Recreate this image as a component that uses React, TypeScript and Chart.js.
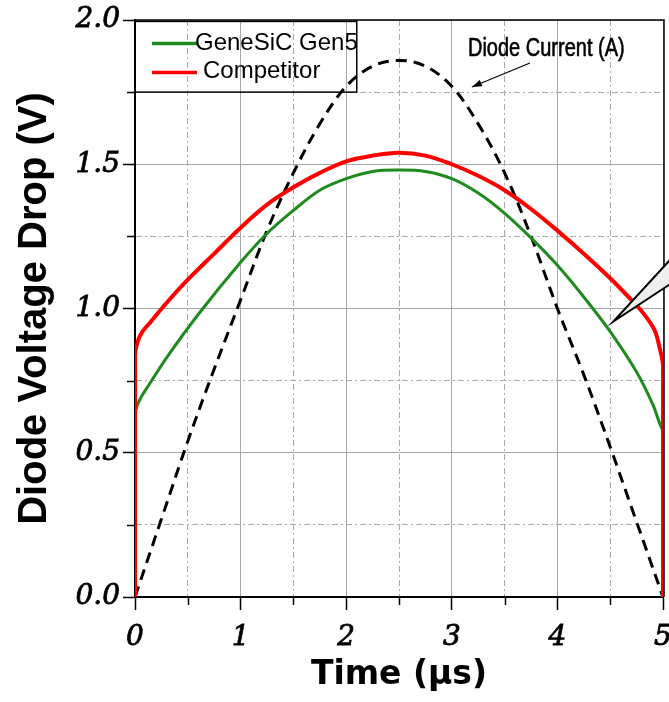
import React, { useEffect, useRef } from 'react';
import { Chart, registerables } from 'chart.js';

Chart.register(...registerables);

// ---- data ----
const currentTime = [0, 0.25, 0.5, 0.75, 1, 1.25, 1.5, 1.75, 2, 2.25, 2.5, 2.75, 3, 3.25, 3.5, 3.75, 4, 4.25, 4.5, 4.75, 5];
const currentValue = [0, 0.27, 0.54, 0.79, 1.03, 1.27, 1.47, 1.64, 1.77, 1.84, 1.86, 1.84, 1.77, 1.64, 1.47, 1.25, 1.0, 0.77, 0.52, 0.26, 0];

const competitorTime = [0, 0, 0.03, 0.07, 0.14, 0.3, 0.5, 0.75, 1, 1.25, 1.5, 1.75, 2, 2.25, 2.5, 2.75, 3, 3.25, 3.5, 3.75, 4, 4.25, 4.5, 4.7, 4.8, 4.92, 4.97, 5, 5];
const competitorVolts = [0, 0.84, 0.89, 0.92, 0.95, 1.02, 1.1, 1.19, 1.28, 1.36, 1.42, 1.47, 1.51, 1.53, 1.54, 1.53, 1.5, 1.46, 1.41, 1.345, 1.27, 1.19, 1.105, 1.03, 0.99, 0.925, 0.86, 0.8, 0];

const gen5Time = [0, 0, 0.04, 0.14, 0.3, 0.6, 1, 1.25, 1.5, 1.75, 2, 2.25, 2.5, 2.75, 3, 3.25, 3.5, 3.75, 4, 4.25, 4.5, 4.75, 4.9, 4.97, 5, 5];
const gen5Volts = [0, 0.63, 0.68, 0.74, 0.83, 0.98, 1.16, 1.26, 1.34, 1.41, 1.45, 1.475, 1.48, 1.475, 1.45, 1.4, 1.33, 1.245, 1.15, 1.04, 0.92, 0.78, 0.67, 0.6, 0.57, 0];

const seriesNames = ['Competitor', 'GeneSiC Gen5', 'Diode Current (A)'];
const xTitle = 'Time (µs)';
const yTitle = 'Diode Voltage Drop (V)';
const xRange = [0, 5];
const yRange = [0, 2];

const pts = (xs: number[], ys: number[]) => xs.map((x, i) => ({ x, y: ys[i] }));

const isHalf = (v: number) => Math.abs(v * 2 - Math.round(v * 2)) < 1e-9;
const isInt = (v: number) => Math.abs(v - Math.round(v)) < 1e-9;

const GRID = '#a9a9a9';
const DASHDOT = [6, 3, 2, 3];

const decorPlugin = {
  id: 'decor',
  beforeDatasetsDraw(chart: any) {
    const { ctx, chartArea } = chart;
    const xs = chart.scales.x;
    const ys = chart.scales.y;
    ctx.save();
    ctx.strokeStyle = '#000';
    ctx.lineWidth = 1.5;
    // minor ticks
    xs.ticks.forEach((t: any) => {
      if (!isInt(t.value)) {
        const px = Math.round(xs.getPixelForValue(t.value)) + 0.5;
        ctx.beginPath();
        ctx.moveTo(px, chartArea.bottom);
        ctx.lineTo(px, chartArea.bottom + 8);
        ctx.stroke();
      }
    });
    ys.ticks.forEach((t: any) => {
      if (!isHalf(t.value)) {
        const py = Math.round(ys.getPixelForValue(t.value)) + 0.5;
        ctx.beginPath();
        ctx.moveTo(chartArea.left, py);
        ctx.lineTo(chartArea.left - 8, py);
        ctx.stroke();
      }
    });
    // top & right frame
    ctx.lineWidth = 1.5;
    ctx.beginPath();
    ctx.moveTo(chartArea.left, chartArea.top);
    ctx.lineTo(chartArea.right + 1, chartArea.top);
    ctx.lineTo(chartArea.right + 1, chartArea.bottom);
    ctx.stroke();
    ctx.restore();
  },
  afterDraw(chart: any) {
    const { ctx } = chart;
    const xs = chart.scales.x;
    const ys = chart.scales.y;
    const X = (v: number) => xs.getPixelForValue(v);
    const Y = (v: number) => ys.getPixelForValue(v);
    const ds = chart.data.datasets;
    ctx.save();

    // legend box
    const bl = X(0), bt = Y(1.995), br = X(2.1), bb = Y(1.75);
    ctx.strokeStyle = '#000';
    ctx.lineWidth = 1.5;
    ctx.strokeRect(bl, bt, br - bl, bb - bt);
    const entries = [
      { d: ds[1], ly: bt + 22, tx: bl + 60, ty: bt + 29 },
      { d: ds[0], ly: bt + 51, tx: bl + 68, ty: bt + 57 },
    ];
    ctx.font = '24px "Liberation Sans", Arial, sans-serif';
    ctx.textBaseline = 'alphabetic';
    ctx.textAlign = 'left';
    entries.forEach((e) => {
      ctx.strokeStyle = e.d.borderColor;
      ctx.lineWidth = 3.5;
      ctx.beginPath();
      ctx.moveTo(bl + 17, e.ly);
      ctx.lineTo(bl + 62, e.ly);
      ctx.stroke();
      ctx.fillStyle = '#000';
      ctx.fillText(e.d.label, e.tx, e.ty);
    });

    // Diode Current annotation (condensed sans)
    const ax = X(3.153), ay = Y(1.875);
    ctx.save();
    ctx.translate(ax, ay);
    ctx.scale(0.8, 1);
    ctx.font = '25px "Liberation Sans", Arial, sans-serif';
    ctx.fillStyle = '#000';
    ctx.strokeStyle = '#000';
    ctx.lineWidth = 0.6;
    ctx.fillText(ds[2].label, 0, 0);
    ctx.strokeText(ds[2].label, 0, 0);
    ctx.restore();

    // arrow
    const x1 = X(3.74), y1 = Y(1.851), x2 = X(3.19), y2 = Y(1.768);
    ctx.strokeStyle = '#000';
    ctx.lineWidth = 1.2;
    ctx.beginPath();
    ctx.moveTo(x1, y1);
    ctx.lineTo(x2, y2);
    ctx.stroke();
    const ang = Math.atan2(y2 - y1, x2 - x1);
    ctx.beginPath();
    ctx.moveTo(x2, y2);
    ctx.lineTo(x2 - 10 * Math.cos(ang) + 3.5 * Math.sin(ang), y2 - 10 * Math.sin(ang) - 3.5 * Math.cos(ang));
    ctx.lineTo(x2 - 10 * Math.cos(ang) - 3.5 * Math.sin(ang), y2 - 10 * Math.sin(ang) + 3.5 * Math.cos(ang));
    ctx.closePath();
    ctx.fillStyle = '#000';
    ctx.fill();

    // callout wedge on the right
    ctx.beginPath();
    ctx.moveTo(X(5.07), Y(1.17));
    ctx.lineTo(X(4.53), Y(0.955));
    ctx.lineTo(X(5.07), Y(1.085));
    ctx.closePath();
    ctx.fillStyle = '#eeeeee';
    ctx.fill();
    ctx.strokeStyle = '#000';
    ctx.lineWidth = 2;
    ctx.stroke();

    ctx.restore();
  },
};

const tickFont = { family: '"DejaVu Serif", serif', style: 'italic' as const, size: 28, weight: 'normal' as const };

export default function App() {
  const ref = useRef<HTMLCanvasElement>(null);
  useEffect(() => {
    if (!ref.current) return;
    const chart = new Chart(ref.current, {
      type: 'scatter',
      data: {
        datasets: [
          {
            label: seriesNames[0],
            data: pts(competitorTime, competitorVolts),
            showLine: true,
            borderColor: '#ff0000',
            backgroundColor: '#ff0000',
            borderWidth: 4,
            pointRadius: 0,
            tension: 0.35,
            order: 0,
          },
          {
            label: seriesNames[1],
            data: pts(gen5Time, gen5Volts),
            showLine: true,
            borderColor: '#1f8a1f',
            backgroundColor: '#1f8a1f',
            borderWidth: 3,
            pointRadius: 0,
            tension: 0.35,
            order: 1,
          },
          {
            label: seriesNames[2],
            data: pts(currentTime, currentValue),
            showLine: true,
            borderColor: '#000000',
            backgroundColor: '#000000',
            borderWidth: 3,
            borderDash: [11, 7],
            pointRadius: 0,
            tension: 0.35,
            order: 2,
          },
        ],
      },
      options: {
        responsive: false,
        animation: false,
        devicePixelRatio: 1,
        layout: { padding: { top: 20, right: 6, left: 0, bottom: 0 }, autoPadding: false },
        plugins: { legend: { display: false }, tooltip: { enabled: false } },
        scales: {
          x: {
            type: 'linear',
            position: 'bottom',
            min: xRange[0],
            max: xRange[1],
            afterFit: (s: any) => {
              s.height = 105;
              s.paddingLeft = 0;
              s.paddingRight = 0;
            },
            ticks: {
              stepSize: 0.5,
              autoSkip: false,
              maxRotation: 0,
              padding: 11,
              color: '#000',
              textStrokeColor: '#000',
              textStrokeWidth: 0.8,
              font: tickFont,
              callback: (v: any) => (isInt(Number(v)) ? String(Math.round(Number(v))) : ''),
            },
            grid: {
              color: GRID,
              lineWidth: 1,
              drawTicks: true,
              tickLength: 13,
              tickWidth: 1.5,
              tickColor: (c: any) => (c.tick && isInt(c.tick.value) ? '#000' : 'rgba(0,0,0,0)'),
            },
            border: {
              display: true,
              color: '#000',
              width: 2,
              dash: (c: any) => (c.tick && !isInt(c.tick.value) ? DASHDOT : []),
            },
            title: {
              display: true,
              text: xTitle,
              color: '#000',
              font: { family: '"DejaVu Sans", sans-serif', size: 33, weight: 'bold' },
              padding: { top: 0, bottom: 7 },
            },
          },
          y: {
            type: 'linear',
            position: 'left',
            min: yRange[0],
            max: yRange[1],
            afterFit: (s: any) => {
              s.width = 135;
              s.paddingTop = 0;
              s.paddingBottom = 0;
            },
            ticks: {
              stepSize: 0.25,
              autoSkip: false,
              padding: 3,
              color: '#000',
              textStrokeColor: '#000',
              textStrokeWidth: 0.8,
              font: tickFont,
              callback: (v: any) => (isHalf(Number(v)) ? Number(v).toFixed(1) : ''),
            },
            grid: {
              color: GRID,
              lineWidth: 1,
              drawTicks: true,
              tickLength: 12,
              tickWidth: 1.5,
              tickColor: (c: any) => (c.tick && isHalf(c.tick.value) ? '#000' : 'rgba(0,0,0,0)'),
            },
            border: {
              display: true,
              color: '#000',
              width: 2,
              dash: (c: any) => (c.tick && !isHalf(c.tick.value) ? DASHDOT : []),
            },
            title: {
              display: true,
              text: yTitle,
              color: '#000',
              font: { family: '"Liberation Sans", Arial, sans-serif', size: 40, weight: 'bold' },
              padding: { top: 11, bottom: 0 },
            },
          },
        },
      },
      plugins: [decorPlugin],
    } as any);
    return () => chart.destroy();
  }, []);

  return (
    <canvas
      ref={ref}
      width={669}
      height={702}
      style={{ position: 'absolute', left: 0, top: 0, width: 669, height: 702 }}
    />
  );
}
